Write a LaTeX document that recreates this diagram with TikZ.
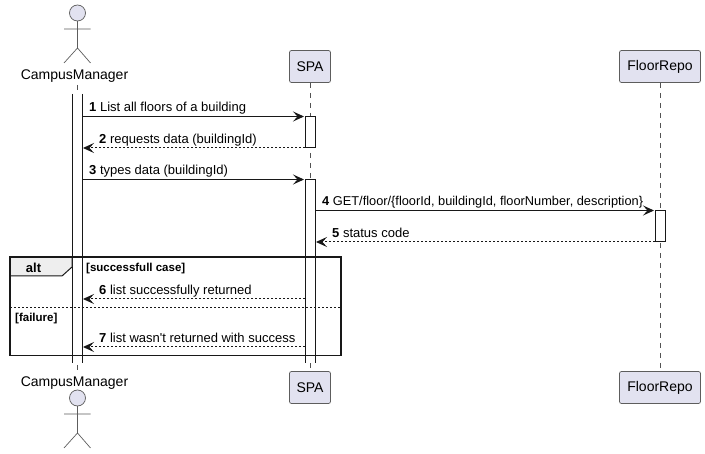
\documentclass[tikz,border=0pt]{standalone}
\usepackage{fontspec}
\setmainfont{Liberation Sans}
\usetikzlibrary{arrows.meta}
\definecolor{partfill}{HTML}{E2E2F0}
\definecolor{partline}{HTML}{181818}
\definecolor{tabfill}{HTML}{EEEEEE}
\begin{document}
\begin{tikzpicture}[x=1pt, y=-1pt, font=\fontsize{13}{15}\selectfont,
    part/.style={draw=partline!70, fill=partfill, line width=0.7pt, rounded corners=2pt,
      minimum height=32pt, inner xsep=0pt, inner ysep=0pt, font=\fontsize{14}{16}\selectfont},
    life/.style={draw=partline!75, line width=0.6pt, dash pattern=on 5pt off 5pt},
    actorline/.style={draw=partline!70, line width=0.7pt},
    actorname/.style={inner sep=0pt, font=\fontsize{14}{16}\selectfont},
    bar/.style={draw=partline, fill=white, line width=1pt},
    msg/.style={draw=partline, line width=1pt, -{Stealth[length=11pt,width=10pt,inset=4.5pt]}},
    rsp/.style={msg, dash pattern=on 2pt off 2pt},
    lbl/.style={inner sep=0pt, anchor=base west},
    guard/.style={inner sep=0pt, anchor=base west, font=\fontsize{11.5}{13}\selectfont\bfseries}]
    \useasboundingbox (0,0) rectangle (705,454);
    \fill[white] (0,0) rectangle (705,454);%
    \node[actorname] (mgrtop) at (74.5,76.5) {CampusManager};%
    \node[actorname] (mgrbot) at (74.5,383.5) {CampusManager};%
    \node[part, minimum width=41pt] (spatop) at (310,66.5) {SPA};%
    \node[part, minimum width=41pt] (spabot) at (310,387.5) {SPA};%
    \node[part, minimum width=81pt] (repotop) at (660,66.5) {FloorRepo};%
    \node[part, minimum width=81pt] (repobot) at (660,387.5) {FloorRepo};%
    \draw[life] (77.5,85) coordinate (mgrlife) -- (77.5,372) coordinate (mgrend);%
    \draw[life, xshift=-0.5pt] (spatop) -- (spabot);%
    \draw[life, xshift=-0.5pt] (repotop) -- (repobot);%
    % actors
    \foreach \yy in {13,398} {
      \draw[actorline, fill=partfill] (77.5,\yy) circle (8);
      \draw[actorline] (77.5,\yy+8) -- (77.5,\yy+35)
        (64,\yy+16) -- (90.5,\yy+16)
        (64,\yy+50) -- (77.5,\yy+35) -- (90.5,\yy+50);
    }
    % activations
    \fill[white] (72.5,94) rectangle (82,363);%
    \draw[bar] (72.5,94) -- (72.5,363) (82,94) -- (82,363);%
    \draw[bar] (305,116.5) rectangle (315,148);%
    \fill[white] (305,179.5) rectangle (315,363);%
    \draw[bar] (305,363) -- (305,179.5) -- (315,179.5) -- (315,363);%
    \draw[bar] (655,210.5) rectangle (665,242);%
    % alt frame
    \draw[partline, line width=1pt, fill=tabfill] (10,257) -- (72,257) -- (72,267) -- (62,276) -- (10,276) -- cycle;%
    \draw[partline, line width=1.5pt] (10,257) rectangle (341,355.5);%
    \draw[partline, line width=1pt, dash pattern=on 2pt off 2pt] (10,308) -- (341,308);%
    \node[inner sep=0pt, font=\fontsize{13}{15}\selectfont\bfseries] (altlbl) at (33.5,267.5) {alt};%
    \node[guard] (okguard) at (86,272) {[successfull case]};%
    \node[guard] (badguard) at (15,321.5) {[failure]};%
    % messages
    \coordinate (m1a) at (82,116.5);   \coordinate (m1b) at (304,116.5);%
    \coordinate (m2a) at (305,148);    \coordinate (m2b) at (83,148);%
    \coordinate (m3a) at (82,179.5);   \coordinate (m3b) at (304,179.5);%
    \coordinate (m4a) at (315,210.5);  \coordinate (m4b) at (654,210.5);%
    \coordinate (m5a) at (655,242);    \coordinate (m5b) at (316,242);%
    \coordinate (m6a) at (305,299);    \coordinate (m6b) at (83,299);%
    \coordinate (m7a) at (305,347);    \coordinate (m7b) at (83,347);%
    \draw[msg] (m1a) -- (m1b);%
    \draw[rsp] (m2a) -- (m2b);%
    \draw[msg] (m3a) -- (m3b);%
    \draw[msg] (m4a) -- (m4b);%
    \draw[rsp] (m5a) -- (m5b);%
    \draw[rsp] (m6a) -- (m6b);%
    \draw[rsp] (m7a) -- (m7b);%
    \node[lbl] (t1) at (89,112) {\textbf{1} List all floors of a building};%
    \node[lbl] (t2) at (99,144) {\textbf{2} requests data (buildingId)};%
    \node[lbl] (t3) at (89,175) {\textbf{3} types data (buildingId)};%
    \node[lbl, font=\fontsize{12.8}{15}\selectfont] (t4) at (322,206) {\textbf{4} GET/floor/\{floorId, buildingId, floorNumber, description\}};%
    \node[lbl] (t5) at (332,238) {\textbf{5} status code};%
    \node[lbl] (t6) at (99,295) {\textbf{6} list successfully returned};%
    \node[lbl] (t7) at (99,343) {\textbf{7} list wasn\textquotesingle t returned with success};%
  \end{tikzpicture}
\end{document}
